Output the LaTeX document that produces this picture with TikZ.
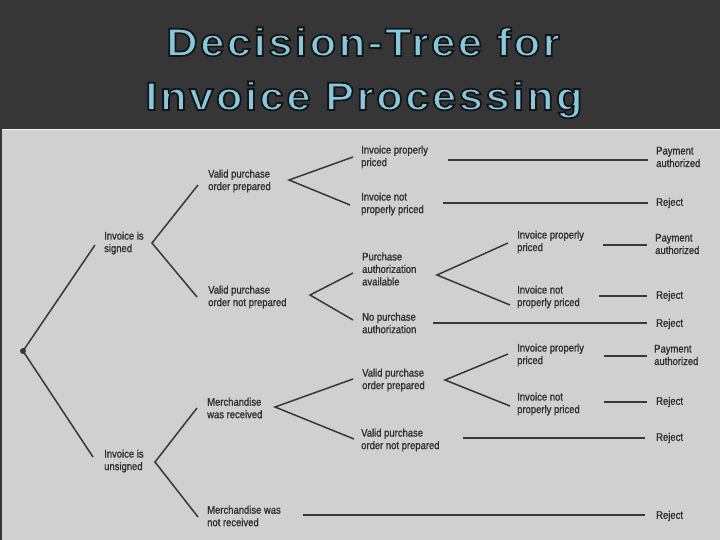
\documentclass[tikz,border=0pt]{standalone}
\usepackage{fontspec}
\newfontfamily\treefont[FakeStretch=0.86,FakeBold=1.2]{Liberation Sans}
\newfontfamily\titlefont[LetterSpace=6.5,FakeStretch=1.1,FakeBold=4.5]{Liberation Sans Bold}
\definecolor{band}{HTML}{363636}
\definecolor{scan}{HTML}{D0D0D0}
\definecolor{ink}{HTML}{303030}
\definecolor{linec}{HTML}{383838}
\newcommand{\outlinedtext}[1]{%
  \special{pdf:bcolor [0.53 0.79 0.86] [0.07 0.08 0.09]}#1\special{pdf:ecolor}}
\begin{document}
\begin{tikzpicture}[x=1pt,y=-1pt,
  tx/.style={anchor=west, inner sep=0pt, align=left, text=ink,
    font=\treefont\fontsize{11}{12.5}\selectfont},
  ln/.style={draw=linec, line width=1.5pt},
  hl/.style={draw=linec, line width=1.7pt},
  ttl/.style={anchor=base, inner sep=0pt,
    font=\titlefont\fontsize{39.5}{39.5}\selectfont}]
\useasboundingbox (0,0) rectangle (720,540);
\fill[band] (0,0) rectangle (720,540);
\fill[scan] (2,129) rectangle (720,540);
\draw[white!80!scan, line width=1pt] (2,129.5) -- (720,129.5);
% title
\node[ttl] (title1) at (363,56) {\outlinedtext{Decision-Tree for}};
\node[ttl] (title2) at (364,110) {\outlinedtext{Invoice Processing}};
% text nodes
\node[tx] (sig) at (104,243) {Invoice is\\signed};
\node[tx] (uns) at (104,461) {Invoice is\\unsigned};
\node[tx] (vpo1) at (208,181) {Valid purchase\\order prepared};
\node[tx] (vpn1) at (208,297) {Valid purchase\\order not prepared};
\node[tx] (mr) at (207,408) {Merchandise\\was received};
\node[tx] (mnr) at (207,516) {Merchandise was\\not received};
\node[tx] (ipp1) at (361,157) {Invoice properly\\priced};
\node[tx] (inp1) at (361,204) {Invoice not\\properly priced};
\node[tx] (pa) at (362,269) {Purchase\\authorization\\available};
\node[tx] (npa) at (362,323) {No purchase\\authorization};
\node[tx] (vpo2) at (362,380) {Valid purchase\\order prepared};
\node[tx] (vpn2) at (361,440) {Valid purchase\\order not prepared};
\node[tx] (ipp2) at (517,242) {Invoice properly\\priced};
\node[tx] (inp2) at (517,297) {Invoice not\\properly priced};
\node[tx] (ipp3) at (517,355) {Invoice properly\\priced};
\node[tx] (inp3) at (517,404) {Invoice not\\properly priced};
% outcomes
\node[tx] (o1) at (656,157) {Payment\\authorized};
\node[tx] (o2) at (656,203) {Reject};
\node[tx] (o3) at (655,244) {Payment\\authorized};
\node[tx] (o4) at (656,296) {Reject};
\node[tx] (o5) at (656,324) {Reject};
\node[tx] (o6) at (654,355) {Payment\\authorized};
\node[tx] (o7) at (656,402) {Reject};
\node[tx] (o8) at (656,438) {Reject};
\node[tx] (o9) at (656,516) {Reject};
% fork points
\coordinate (root) at (23,351);
\coordinate (sigV) at ([shift={(48,0)}]sig.west);
\coordinate (unsV) at ([shift={(51,1)}]uns.west);
\coordinate (vpo1V) at ([shift={(81,-1)}]vpo1.west);
\coordinate (vpn1V) at ([shift={(102,-2)}]vpn1.west);
\coordinate (mrV) at ([shift={(68,-1)}]mr.west);
\coordinate (paV) at ([shift={(75,6)}]pa.west);
\coordinate (vpo2V) at ([shift={(83,0)}]vpo2.west);
% branches
\fill[linec] (root) circle (3);
\draw[ln] ([shift={(-9,2)}]sig.west) -- (root) -- ([shift={(-11,-4)}]uns.west);
\draw[ln] ([shift={(-10,4)}]vpo1.west) -- (sigV) -- ([shift={(-11,0)}]vpn1.west);
\draw[ln] ([shift={(-10,0)}]mr.west) -- (unsV) -- ([shift={(-9,1)}]mnr.west);
\draw[ln] ([shift={(-8,0)}]ipp1.west) -- (vpo1V) -- ([shift={(-11,1)}]inp1.west);
\draw[ln] ([shift={(-9,4)}]pa.west) -- (vpn1V) -- ([shift={(-9,-3)}]npa.west);
\draw[ln] ([shift={(-9,-1)}]vpo2.west) -- (mrV) -- ([shift={(-7,-1)}]vpn2.west);
\draw[ln] ([shift={(-9,1)}]ipp2.west) -- (paV) -- ([shift={(-7,8)}]inp2.west);
\draw[ln] ([shift={(-9,-1)}]ipp3.west) -- (vpo2V) -- ([shift={(-7,2)}]inp3.west);
% outcome lines
\draw[hl] ([shift={(87,3)}]ipp1.west) -- ([shift={(-8,3)}]o1.west);
\draw[hl] ([shift={(82,-1)}]inp1.west) -- ([shift={(-8,0)}]o2.west);
\draw[hl] ([shift={(86,3)}]ipp2.west) -- ([shift={(-8,1)}]o3.west);
\draw[hl] ([shift={(82,-1)}]inp2.west) -- ([shift={(-9,0)}]o4.west);
\draw[hl] ([shift={(71,0)}]npa.west) -- ([shift={(-9,-1)}]o5.west);
\draw[hl] ([shift={(87,1)}]ipp3.west) -- ([shift={(-7,1)}]o6.west);
\draw[hl] ([shift={(87,-2)}]inp3.west) -- ([shift={(-9,0)}]o7.west);
\draw[hl] ([shift={(102,-2)}]vpn2.west) -- ([shift={(-11,0)}]o8.west);
\draw[hl] ([shift={(96,-1)}]mnr.west) -- ([shift={(-11,-1)}]o9.west);
\end{tikzpicture}
\end{document}
